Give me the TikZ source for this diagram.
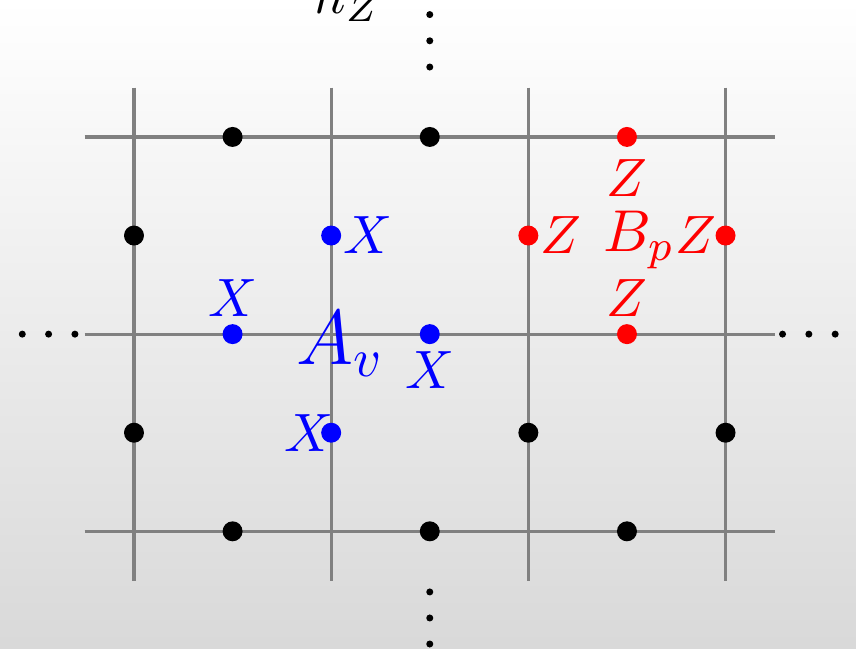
\documentclass[tikz,border=0pt]{standalone}
\usetikzlibrary{positioning}
\begin{document}
\begin{tikzpicture}[
    x=0.642cm, y=-0.642cm,
    bond/.style={draw=gray, line width=0.6pt},
    site/.style={circle, fill=black, inner sep=0pt, minimum size=3.7pt},
    xsite/.style={site, fill=blue},
    zsite/.style={site, fill=red},
    xlab/.style={text=blue, inner sep=0pt},
    zlab/.style={text=red, inner sep=0pt},
    more/.style={circle, fill=black, inner sep=0pt, minimum size=1.3pt}
  ]
  \useasboundingbox (-1.359,-1.389) rectangle (7.323,5.193);
  \clip (-1.359,-1.389) rectangle (7.323,5.193);
  \shade[top color=white, bottom color=gray!30] (-1.359,-1.389) rectangle (7.323,5.193);
  % lattice
  \foreach \i in {0,2,4,6} \draw[bond] (\i,-0.5) -- (\i,4.5);
  \foreach \j in {0,2,4} \draw[bond] (-0.5,\j) -- (6.5,\j);
  % qubits on the edges
  \foreach \i/\j in {1/0,3/0,0/1,0/3,4/3,6/3,1/4,3/4,5/4}
    \node[site] (s\i\j) at (\i,\j) {};
  \node[xsite] (s21) at (2,1) {};
  \node[xsite] (s12) at (1,2) {};
  \node[xsite] (s32) at (3,2) {};
  \node[xsite] (s23) at (2,3) {};
  \node[zsite] (s50) at (5,0) {};
  \node[zsite] (s41) at (4,1) {};
  \node[zsite] (s61) at (6,1) {};
  \node[zsite] (s52) at (5,2) {};
  % star operator
  \node[xlab, right=0pt of s21] (x21) {$X$};
  \node[xlab, above=1pt of s12] (x12) {$X$};
  \node[xlab, below=1pt of s32] (x32) {$X$};
  \node[xlab, left=-2.6pt of s23] (x23) {$X$};
  \node[text=blue, font=\Large] (av) at (2.09,2.10) {$A_v$};
  % plaquette operator
  \node[zlab, below=2pt of s50] (z50) {$Z$};
  \node[zlab, right=0pt of s41] (z41) {$Z$};
  \node[zlab, left=-0.6pt of s61] (z61) {$Z$};
  \node[zlab, above=1pt of s52] (z52) {$Z$};
  \node[text=red, font=\fontsize{11}{13}\selectfont] (bp) at (5.12,1.045) {$B_p$};
  % continuation dots
  \foreach \k in {0,1,2} {
    \node[more] (l\k) at (-1.133+0.267*\k,2) {};
    \node[more] (r\k) at (6.578+0.267*\k,2) {};
    \node[more] (t\k) at (3,-1.241+0.266*\k) {};
    \node[more] (b\k) at (3,4.615+0.264*\k) {};
  }
  \node[anchor=base west, inner sep=0pt] (nz) at (1.81,-1.25) {$n_Z$};
\end{tikzpicture}
\end{document}
